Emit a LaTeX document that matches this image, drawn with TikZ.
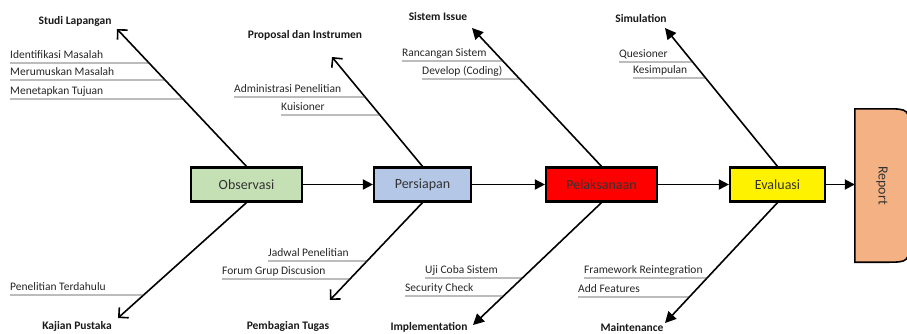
\documentclass[tikz,border=0pt]{standalone}
\usepackage{fontspec}
\setmainfont{Carlito}
\usepackage{graphicx}
\usetikzlibrary{arrows.meta}
\definecolor{obsgreen}{HTML}{C5E0B4}
\definecolor{prepblue}{HTML}{B4C7E7}
\definecolor{reportorange}{HTML}{F4B183}
\begin{document}
\begin{tikzpicture}[x=1pt,y=-1pt,
    box/.style={draw, line width=2.2pt, minimum height=34pt, font=\fontsize{14}{16}\selectfont, text=black!80},
    cause/.style={font=\bfseries\fontsize{11.5}{13}\selectfont, text=black!90},
    item/.style={anchor=south west, inner xsep=0pt, inner ysep=1.5pt, text depth=3pt, font=\fontsize{11.5}{13}\selectfont, text=black!85},
    uline/.style={line width=0.9pt, black!75},
    spine/.style={line width=1.8pt, -{Triangle[length=10pt,width=10pt]}},
    bone/.style={line width=1.6pt, -{Straight Barb[length=7pt,width=14pt]}},
    bonef/.style={line width=1.6pt, -{Triangle[length=11pt,width=11pt]}}]
        \useasboundingbox (0, 0) rectangle (907, 333);
        \clip (0, 0) rectangle (907, 333);

        % Main steps
        \node[box, fill=obsgreen, minimum width=111pt] (obs) at (246.5, 184.5) {Observasi};
        \node[box, fill=prepblue, minimum width=97pt] (prep) at (422.5, 184.5) {Persiapan};
        \node[box, fill=red, minimum width=111pt] (exec) at (601.5, 184.5) {Pelaksanaan};
        \node[box, fill=yellow, minimum width=95pt] (eval) at (777.5, 184.5) {Evaluasi};

        \node[minimum width=54pt, minimum height=153pt, inner sep=0pt] (report) at (882, 185.5) {};
        \draw[line width=1.6pt, fill=reportorange] (report.south west) -- (report.north west)
            -- ([xshift=-24pt]report.north east) .. controls (report.north east) .. ([yshift=-24pt]report.north east)
            -- ([yshift=24pt]report.south east) .. controls (report.south east) .. ([xshift=-24pt]report.south east) -- cycle;
        \node[font=\fontsize{14}{16}\selectfont, text=black!80] at (report.center) {\rotatebox{-90}{Report}};

        \draw[spine] (obs) -- (prep);
        \draw[spine] (prep) -- (exec);
        \draw[spine] (exec) -- (eval);
        \draw[spine] (eval.east) -- (report.west |- eval.east);

        % Observasi
        \coordinate (t1t) at (117, 29);
        \coordinate (t1b) at (118, 318);
        \draw[bone] (obs.north) -- (t1t);
        \draw[bone] (obs.south) -- (t1b);
        \node[cause] (c1t) at (75, 21) {Studi Lapangan};
        \node[cause] (c1b) at (77, 326) {Kajian Pustaka};

        \node[item] (i11) at (10, 63) {Identifikasi Masalah};
        \draw[uline] (i11.south west) -- (intersection of obs.north--t1t and i11.south west--i11.south east);
        \node[item] (i12) at (10, 80) {Merumuskan Masalah};
        \draw[uline] (i12.south west) -- (intersection of obs.north--t1t and i12.south west--i12.south east);
        \node[item] (i13) at (10, 99) {Menetapkan Tujuan};
        \draw[uline] (i13.south west) -- (intersection of obs.north--t1t and i13.south west--i13.south east);
        \node[item] (i14) at (10, 295) {Penelitian Terdahulu};
        \draw[uline] (i14.south west) -- (intersection of obs.south--t1b and i14.south west--i14.south east);

        % Persiapan
        \coordinate (t2t) at (332, 57);
        \coordinate (t2b) at (330, 300);
        \draw[bone] (prep.north) -- (t2t);
        \draw[bone] (prep.south) -- (t2b);
        \node[cause] (c2t) at (305, 35) {Proposal dan Instrumen};
        \node[cause] (c2b) at (288, 326) {Pembagian Tugas};

        \node[item] (i21) at (234, 97) {Administrasi Penelitian};
        \draw[uline] (i21.south west) -- (intersection of prep.north--t2t and i21.south west--i21.south east);
        \node[item] (i22) at (281, 115) {Kuisioner};
        \draw[uline] (i22.south west) -- (intersection of prep.north--t2t and i22.south west--i22.south east);
        \node[item] (i23) at (268, 261) {Jadwal Penelitian};
        \draw[uline] (i23.south west) -- (intersection of prep.south--t2b and i23.south west--i23.south east);
        \node[item] (i24) at (222, 279) {Forum Grup Discusion};
        \draw[uline] (i24.south west) -- (intersection of prep.south--t2b and i24.south west--i24.south east);

        % Pelaksanaan
        \coordinate (t3t) at (472, 28);
        \coordinate (t3b) at (473, 325);
        \draw[bonef] (exec.north) -- (t3t);
        \draw[bonef] (exec.south) -- (t3b);
        \node[cause] (c3t) at (438, 17) {Sistem Issue};
        \node[cause] (c3b) at (429, 327) {Implementation};

        \node[item] (i31) at (402, 61) {Rancangan Sistem};
        \draw[uline] (i31.south west) -- (intersection of exec.north--t3t and i31.south west--i31.south east);
        \node[item] (i32) at (422, 79) {Develop (Coding)};
        \draw[uline] (i32.south west) -- (intersection of exec.north--t3t and i32.south west--i32.south east);
        \node[item] (i33) at (425, 278) {Uji Coba Sistem};
        \draw[uline] (i33.south west) -- (intersection of exec.south--t3b and i33.south west--i33.south east);
        \node[item] (i34) at (405, 296) {Security Check};
        \draw[uline] (i34.south west) -- (intersection of exec.south--t3b and i34.south west--i34.south east);

        % Evaluasi
        \coordinate (t4t) at (665, 28);
        \coordinate (t4b) at (665, 323);
        \draw[bonef] (eval.north) -- (t4t);
        \draw[bonef] (eval.south) -- (t4b);
        \node[cause] (c4t) at (641, 18) {Simulation};
        \node[cause] (c4b) at (632, 327) {Maintenance};

        \node[item] (i41) at (619, 62) {Quesioner};
        \draw[uline] (i41.south west) -- (intersection of eval.north--t4t and i41.south west--i41.south east);
        \node[item] (i42) at (633, 78) {Kesimpulan};
        \draw[uline] (i42.south west) -- (intersection of eval.north--t4t and i42.south west--i42.south east);
        \node[item] (i43) at (584, 278) {Framework Reintegration};
        \draw[uline] (i43.south west) -- (intersection of eval.south--t4b and i43.south west--i43.south east);
        \node[item] (i44) at (578, 297) {Add Features};
        \draw[uline] (i44.south west) -- (intersection of eval.south--t4b and i44.south west--i44.south east);
    \end{tikzpicture}
\end{document}
